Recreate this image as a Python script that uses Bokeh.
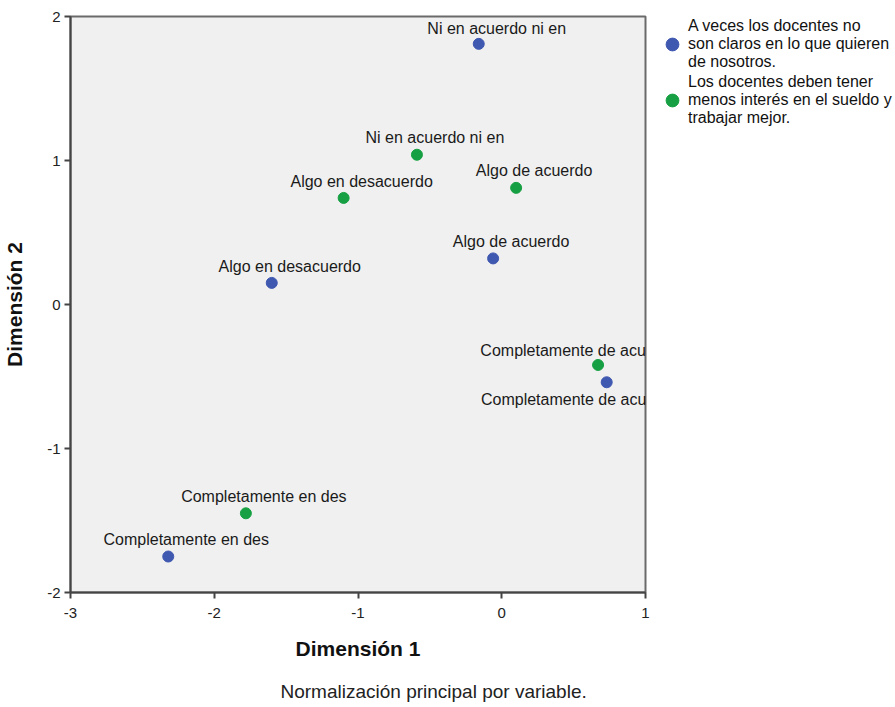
from bokeh.plotting import figure
from bokeh.models import ColumnDataSource, Legend, LegendItem, Title, FixedTicker, Range1d
from bokeh.embed import file_html
from bokeh.resources import INLINE
from bokeh.core.properties import value

# Data
labels_a = ["Ni en acuerdo ni en", "Algo de acuerdo", "Algo en desacuerdo",
            "Completamente de acu", "Completamente en des"]
x_a = [-0.16, -0.06, -1.60, 0.73, -2.32]
y_a = [1.81, 0.32, 0.15, -0.54, -1.75]

labels_b = ["Ni en acuerdo ni en", "Algo en desacuerdo", "Algo de acuerdo",
            "Completamente de acu", "Completamente en des"]
x_b = [-0.59, -1.10, 0.10, 0.67, -1.78]
y_b = [1.04, 0.74, 0.81, -0.42, -1.45]

series_names = ["A veces los docentes no\nson claros en lo que quieren\nde nosotros.",
                "Los docentes deben tener\nmenos interés en el sueldo y\ntrabajar mejor."]
x_ticks = [-3, -2, -1, 0, 1]
y_ticks = [-2, -1, 0, 1, 2]

# label styling (pixel offsets)
dx_a = [18, 18, 18, -43, 18]
dy_a = [-15, -17, -16, 17, -17]
dx_b = [18, 18, 18, -35, 18]
dy_b = [-17, -16, -17, -14, -17]

BLUE = "#3f58b0"
GREEN = "#17a043"
FONT = "Liberation Sans"

src_a = ColumnDataSource(dict(x=x_a, y=y_a, t=labels_a, dx=dx_a, dy=dy_a))
src_b = ColumnDataSource(dict(x=x_b, y=y_b, t=labels_b, dx=dx_b, dy=dy_b))

p = figure(output_backend="svg", toolbar_location=None,
           x_range=Range1d(-3, 1), y_range=Range1d(-2, 2),
           frame_width=575, frame_height=576,
           min_border_left=0, min_border_top=16, min_border_right=0, min_border_bottom=0)

p.background_fill_color = "#f0f0f0"
p.border_fill_color = "white"
p.outline_line_color = "#6a6a6a"
p.outline_line_width = 2
p.xgrid.visible = False
p.ygrid.visible = False

for ax in (p.xaxis[0], p.yaxis[0]):
    ax.axis_line_color = "#444444"
    ax.axis_line_width = 2
    ax.major_tick_line_color = "#444444"
    ax.major_tick_line_width = 2
    ax.major_tick_out = 6
    ax.major_tick_in = 0
    ax.minor_tick_line_color = None
    ax.major_label_text_font = FONT
    ax.major_label_text_font_size = "15px"
    ax.major_label_text_color = "#222222"
    ax.axis_label_text_font = FONT
    ax.axis_label_text_font_size = "21px"
    ax.axis_label_text_font_style = "bold"
    ax.axis_label_text_color = "#111111"

p.xaxis.ticker = FixedTicker(ticks=x_ticks)
p.yaxis.ticker = FixedTicker(ticks=y_ticks)
p.xaxis.major_label_overrides = {t: str(t) for t in x_ticks}
p.yaxis.major_label_overrides = {t: str(t) for t in y_ticks}
p.xaxis.axis_label = "Dimensión 1"
p.yaxis.axis_label = "Dimensión 2"
p.xaxis.major_label_standoff = 9
p.yaxis.major_label_standoff = 4
p.xaxis.axis_label_standoff = 16
p.yaxis.axis_label_standoff = 18

ra = p.scatter("x", "y", source=src_a, size=11, color=BLUE, line_color=BLUE)
rb = p.scatter("x", "y", source=src_b, size=11, color=GREEN, line_color=GREEN)

for src in (src_a, src_b):
    p.text("x", "y", text="t", source=src, x_offset="dx", y_offset="dy",
           text_align="center", text_baseline="middle",
           text_font=value(FONT), text_font_size="16px", text_color="#1a1a1a")

legend = Legend(items=[LegendItem(label=series_names[0], renderers=[ra]),
                       LegendItem(label=series_names[1], renderers=[rb])],
                location=(11, 465), border_line_color=None,
                background_fill_alpha=0, label_text_font=FONT,
                label_text_font_size="16px", label_text_line_height=0.8,
                label_text_color="#111111",
                glyph_width=32, glyph_height=32, label_standoff=0,
                spacing=2, padding=0, margin=5)
p.add_layout(legend, "right")

foot = Title(text="Normalización principal por variable.", align="left",
             text_font=FONT, text_font_size="19px", text_font_style="normal",
             text_color="#222222", offset=210, standoff=32)
p.add_layout(foot, "below")

open("out.html", "w").write(file_html(p, INLINE))
